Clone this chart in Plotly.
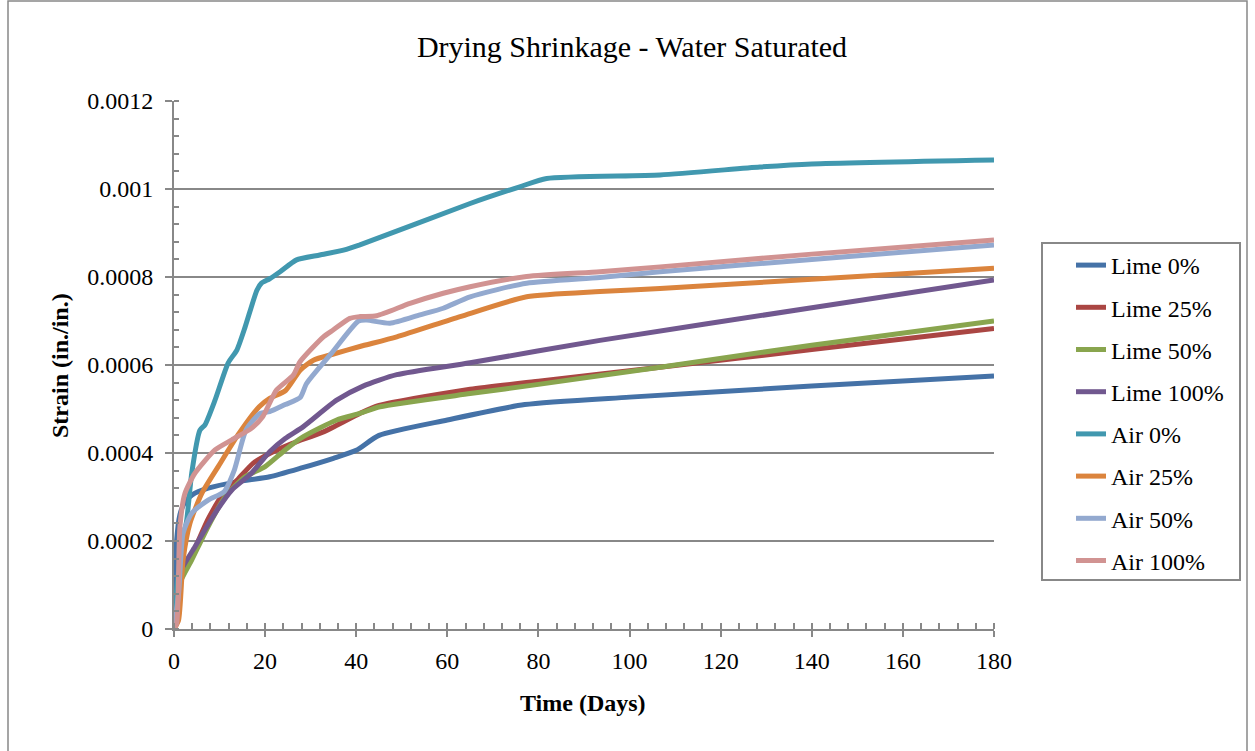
import plotly.graph_objects as go

# Drying shrinkage of water-saturated specimens: strain (in./in.) vs. age (days)

lime0_days = [0, 0.3, 1.3, 2.5, 4, 7.5, 14, 21, 28, 35, 40, 45, 60, 77, 100, 140, 180]
lime0_strain = [0, 0.00016, 0.00026, 0.00029, 0.000305, 0.00032, 0.000335, 0.000346, 0.000366,
                0.000388, 0.000406, 0.00044, 0.000475, 0.00051, 0.000527, 0.000552, 0.000575]

lime25_days = [0, 1.3, 4, 7.5, 11, 14, 17.4, 21, 26, 32.8, 40.8, 45, 65, 80, 106.7, 140, 180]
lime25_strain = [0, 0.00012, 0.00017, 0.00025, 0.00031, 0.00034, 0.000377, 0.000399, 0.000422,
                 0.000448, 0.00049, 0.000508, 0.000545, 0.000563, 0.000595, 0.000635, 0.000683]

lime50_days = [0, 1.3, 3.9, 7.5, 11.2, 15.6, 20, 24.4, 28.4, 35.7, 40.8, 45.2, 65, 80, 106.7, 140, 180]
lime50_strain = [0, 0.000104, 0.000157, 0.000233, 0.0003, 0.000346, 0.000369, 0.000407, 0.000437,
                 0.000475, 0.00049, 0.000505, 0.000535, 0.000556, 0.000595, 0.000645, 0.0007]

lime100_days = [0, 1.3, 4.6, 9, 12.7, 17, 21, 24.4, 28.4, 35.7, 41.5, 48.9, 65, 93.5, 140, 180]
lime100_strain = [0, 0.000127, 0.000187, 0.000263, 0.000316, 0.000354, 0.000403, 0.000433, 0.00046,
                  0.00052, 0.000552, 0.000578, 0.000605, 0.000656, 0.00073, 0.000793]

air0_days = [0, 0.5, 1.7, 2.8, 3.9, 5.7, 6.8, 9, 11.9, 13.8, 15.6, 18.2, 19.2, 21, 23.3, 26.9,
             32, 37.2, 40.8, 65, 75.9, 81.8, 106.7, 128.6, 140, 180]
air0_strain = [0, 0.00008, 0.000187, 0.000248, 0.000355, 0.000452, 0.000464, 0.00052, 0.000605,
               0.000634, 0.000686, 0.00077, 0.000786, 0.000796, 0.000812, 0.000839, 0.00085,
               0.000861, 0.000873, 0.000967, 0.001005, 0.001024, 0.001032, 0.00105, 0.001057, 0.001066]

air25_days = [0, 1, 2, 3.5, 6.1, 9.7, 14.3, 18.7, 21, 24.5, 27.7, 30.6, 35, 40.8, 48.9, 62.8,
              77.4, 93.5, 106.7, 140, 180]
air25_strain = [0, 0.00002, 0.000157, 0.00024, 0.000308, 0.000369, 0.000445, 0.000505, 0.000524,
                0.000542, 0.000588, 0.000611, 0.000625, 0.000642, 0.000664, 0.00071, 0.000755,
                0.000767, 0.000774, 0.000795, 0.00082]

air50_days = [0, 1, 2, 3.9, 7.5, 11, 13.2, 15.8, 18.9, 21, 24.4, 27.7, 29.1, 34.6, 40.5, 42.3,
              47.4, 54, 59.1, 65, 77.4, 93.5, 106.7, 140, 180]
air50_strain = [0, 0.00008, 0.000218, 0.000263, 0.000293, 0.000312, 0.00036, 0.000452, 0.00049,
                0.000494, 0.00051, 0.000526, 0.000558, 0.000627, 0.0007, 0.000702, 0.000695,
                0.000714, 0.000729, 0.000755, 0.000786, 0.000799, 0.000812, 0.00084, 0.000873]

air100_days = [0, 0.6, 1.3, 2.4, 4.6, 9, 12.7, 17, 19.5, 22.5, 26.2, 27.7, 32.8, 35, 38.6, 40.8,
               44.5, 51.8, 59.1, 65, 77.4, 93.5, 106.7, 140, 180]
air100_strain = [0, 0.000013, 0.000233, 0.000308, 0.000354, 0.000407, 0.00043, 0.000456, 0.000483,
                 0.000543, 0.000577, 0.000608, 0.000664, 0.00068, 0.000706, 0.00071, 0.000712,
                 0.00074, 0.000763, 0.000778, 0.000801, 0.000812, 0.000823, 0.000852, 0.000884]

series_names = ["Lime 0%", "Lime 25%", "Lime 50%", "Lime 100%",
                "Air 0%", "Air 25%", "Air 50%", "Air 100%"]
series_days = [lime0_days, lime25_days, lime50_days, lime100_days,
               air0_days, air25_days, air50_days, air100_days]
series_strain = [lime0_strain, lime25_strain, lime50_strain, lime100_strain,
                 air0_strain, air25_strain, air50_strain, air100_strain]
series_colors = ["#4572A7", "#AA4643", "#89A54E", "#71588F",
                 "#4198AF", "#DB843D", "#93A9CF", "#D19392"]

y_tick_values = [0, 0.0002, 0.0004, 0.0006, 0.0008, 0.001, 0.0012]
y_tick_labels = ["0", "0.0002", "0.0004", "0.0006", "0.0008", "0.001", "0.0012"]
x_tick_values = [0, 20, 40, 60, 80, 100, 120, 140, 160, 180]

FONT = "Liberation Serif, Times New Roman, serif"
GRAY = "#888888"

fig = go.Figure()
for i, (name, d, s, c) in enumerate(zip(series_names, series_days, series_strain, series_colors)):
    fig.add_trace(go.Scatter(
        x=d, y=s, name=name, mode="lines",
        line=dict(color=c, width=5, shape="spline", smoothing=0.6),
        legendgroup=f"g{i}",
    ))

# plot area: 820 x 528 px
L, R, T, B = 174, 261, 101, 122
W, H = 1255, 751
PW, PH = W - L - R, H - T - B

def px_to_paper_x(px):
    return (px - L) / PW

def px_to_paper_y(py):
    return (H - B - py) / PH

fig.update_layout(
    width=W, height=H,
    margin=dict(l=L, r=R, t=T, b=B),
    paper_bgcolor="white", plot_bgcolor="white",
    font=dict(family=FONT, size=24, color="black"),
    title=dict(text="Drying Shrinkage - Water Saturated", font=dict(family=FONT, size=30, color="black"),
               x=632 / W, xref="container", xanchor="center",
               y=1 - 46 / H, yref="container", yanchor="middle"),
    showlegend=True,
    legend=dict(
        x=px_to_paper_x(1071), y=px_to_paper_y(243), xanchor="left", yanchor="top",
        xref="paper", yref="paper",
        borderwidth=0, bgcolor="rgba(0,0,0,0)",
        font=dict(family=FONT, size=24, color="black"),
        tracegroupgap=8, traceorder="grouped",
    ),
    shapes=[
        # outer chart frame
        dict(type="rect", xref="paper", yref="paper",
             x0=px_to_paper_x(8), x1=px_to_paper_x(1247),
             y0=px_to_paper_y(800), y1=px_to_paper_y(1),
             line=dict(color=GRAY, width=1.5), fillcolor="rgba(0,0,0,0)", layer="below"),
        # legend frame
        dict(type="rect", xref="paper", yref="paper",
             x0=px_to_paper_x(1042), x1=px_to_paper_x(1240),
             y0=px_to_paper_y(580), y1=px_to_paper_y(243),
             line=dict(color=GRAY, width=2), fillcolor="white", layer="below"),
    ],
    annotations=[
        dict(text="<b>Time (Days)</b>", xref="paper", yref="paper",
             x=px_to_paper_x(583), y=px_to_paper_y(703), showarrow=False,
             xanchor="center", yanchor="middle", font=dict(family=FONT, size=24, color="black")),
        dict(text="<b>Strain (in./in.)</b>", xref="paper", yref="paper",
             x=px_to_paper_x(60), y=px_to_paper_y(365), showarrow=False, textangle=-90,
             xanchor="center", yanchor="middle", font=dict(family=FONT, size=24, color="black")),
    ],
)

fig.update_xaxes(
    range=[0, 180], tickvals=x_tick_values,
    showgrid=False, zeroline=False,
    showline=True, linecolor=GRAY, linewidth=2,
    ticks="outside", ticklen=6, tickwidth=2, tickcolor=GRAY,
    ticklabelstandoff=3,
    tickfont=dict(family=FONT, size=24, color="black"),
    minor=dict(dtick=4, ticks="inside", ticklen=6, tickwidth=1.5, tickcolor=GRAY, showgrid=False),
)
fig.update_yaxes(
    range=[0, 0.0012], tickvals=y_tick_values, ticktext=y_tick_labels,
    showgrid=True, gridcolor=GRAY, gridwidth=2, zeroline=False,
    showline=True, linecolor=GRAY, linewidth=2,
    ticks="outside", ticklen=7, tickwidth=2, tickcolor=GRAY,
    ticklabelstandoff=7,
    tickfont=dict(family=FONT, size=24, color="black"),
    minor=dict(dtick=0.00004, tick0=0, ticks="inside", ticklen=5, tickwidth=1.5, tickcolor=GRAY, showgrid=False),
)

fig.write_html("out.html")
